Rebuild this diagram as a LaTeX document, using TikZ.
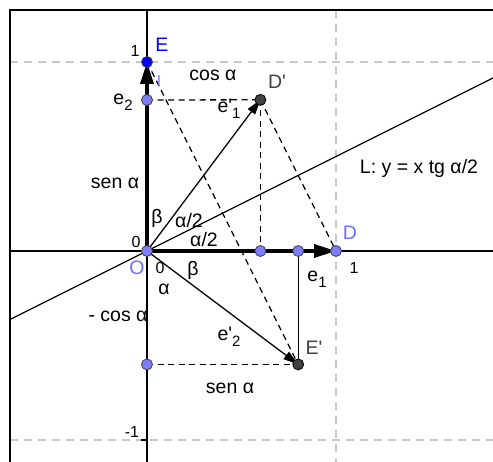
\documentclass[tikz,border=0pt]{standalone}
\usepackage{fontspec}
\setmainfont{Liberation Sans}
\usetikzlibrary{arrows.meta}
\definecolor{ptblue}{RGB}{125,125,255}
\definecolor{ptdark}{RGB}{64,64,64}
\definecolor{gridgray}{RGB}{200,200,200}
\definecolor{lblblue}{RGB}{110,110,255}
\newcommand{\sub}[1]{\raisebox{-0.32em}{\fontsize{15}{15}\selectfont #1}}
\begin{document}
\begin{tikzpicture}[x=1pt,y=-1pt,
  lbl/.style={inner sep=0pt, font=\fontsize{19.5}{21}\selectfont},
  num/.style={inner sep=0pt, font=\fontsize{16}{17}\selectfont},
  gridline/.style={gridgray, line width=1.3pt, dash pattern=on 8pt off 6pt},
  axis/.style={black, line width=1.5pt},
  frameline/.style={black, line width=2.6pt},
  helper/.style={black, line width=1.3pt, dash pattern=on 6pt off 4.5pt},
  thinline/.style={black, line width=1.3pt},
  bigvec/.style={line width=3.5pt, -{Triangle[length=22pt,width=13pt]}},
  vec/.style={line width=1.3pt, -{Triangle[length=15pt,width=9pt]}},
  pt/.style={circle, draw=black!75, line width=0.8pt, fill=ptblue, minimum size=11pt, inner sep=0pt},
  ptE/.style={pt, fill=blue},
  ptD/.style={pt, fill=ptdark, draw=black},
]
\useasboundingbox (0,0) rectangle (493,462);
% main points
\coordinate (O) at (147,251);
\coordinate (E) at (147,62);
\coordinate (Py) at (147,100);
\coordinate (D) at (336,251);
\coordinate (Dp) at (260.4,99.8);
\coordinate (Ep) at (298.2,364.4);
\coordinate (Qa) at (260.4,251);
\coordinate (Qb) at (298.2,251);
\coordinate (Qc) at (147,364.4);
% free ends
\coordinate (gHa1) at (10,62);
\coordinate (gHb1) at (493,62);
\coordinate (gHa2) at (10,440);
\coordinate (gHb2) at (493,440);
\coordinate (gVa) at (336,10);
\coordinate (gVb) at (336,462);
\coordinate (frTL) at (10,10);
\coordinate (frTR) at (493,10);
\coordinate (frBL) at (10,462);
\coordinate (axXa) at (10,251);
\coordinate (axXb) at (493,251);
\coordinate (axYa) at (147,10);
\coordinate (axYb) at (147,462);
\coordinate (La) at (10,319.5);
\coordinate (Lb) at (493,78);
\coordinate (tk1a) at (141,440);
\coordinate (tk1b) at (147,440);
% grid
\draw[gridline] (gHa1) -- (gHb1);
\draw[gridline] (gHa2) -- (gHb2);
\draw[gridline] (gVa) -- (gVb);
% frame
\draw[frameline] (frTR) -- (frTL) -- (frBL);
% axes
\draw[axis] (axXa) -- (axXb);
\draw[axis] (axYa) -- (axYb);
\draw[axis] (tk1a) -- (tk1b);
% line L
\draw[thinline] (La) -- (Lb);
% helper lines
\draw[helper] (Py) -- (Dp);
\draw[helper] (Dp) -- (Qa);
\draw[helper] (Dp) -- (D);
\draw[helper] (E) -- (Ep);
\draw[helper] (Qc) -- (Ep);
\draw[thinline] (Qb) -- (Ep);
% vectors
\draw[bigvec] (O) -- (D);
\draw[bigvec] (O) -- (E);
\draw[vec] (O) -- (Dp);
\draw[vec] (O) -- (Ep);
% points
\node[pt] (nO) at (O) {};
\node[ptE] (nE) at (E) {};
\node[pt] (nPy) at (Py) {};
\node[pt] (nD) at (D) {};
\node[pt] (nQa) at (Qa) {};
\node[pt] (nQb) at (Qb) {};
\node[pt] (nQc) at (Qc) {};
\node[ptD] (nDp) at (Dp) {};
\node[ptD] (nEp) at (Ep) {};
% labels
\node[num] (l1) at (135,51) {1};
\node[lbl, text=blue] (lE) at (162,45) {E};
\node[lbl, text=lblblue, font=\fontsize{15}{15}\selectfont] (ll) at (159,81) {l};
\node[lbl] (lcos) at (213,75) {cos α};
\node[lbl, text=ptdark] (lDp) at (277,82) {D\textquotesingle};
\node[lbl] (le2) at (123,102) {e\sub{2}};
\node[lbl] (le1p) at (229,109) {e\textquotesingle\sub{1}};
\node[lbl] (lsen1) at (115,183) {sen α};
\node[lbl] (lL) at (419,168) {L: y = x tg α/2};
\node[lbl] (lb1) at (157,218) {β};
\node[lbl] (la1) at (189,221) {α/2};
\node[lbl] (la2) at (204,240) {α/2};
\node[num] (l0a) at (136,242) {0};
\node[lbl, text=lblblue] (lO) at (137,268) {O};
\node[num] (l0b) at (160,268) {0};
\node[lbl] (lb2) at (193,270) {β};
\node[lbl] (la3) at (164,289) {α};
\node[lbl, text=lblblue] (lD) at (350,233) {D};
\node[num] (l1x) at (354,268) {1};
\node[lbl] (le1) at (317,279) {e\sub{1}};
\node[lbl] (lmcos) at (118,316) {- cos α};
\node[lbl] (le2p) at (229,337) {e\textquotesingle\sub{2}};
\node[lbl, text=ptdark] (lEp) at (314,348) {E\textquotesingle};
\node[lbl] (lsen2) at (230,388) {sen α};
\node[num] (lm1) at (132,432) {-1};
\end{tikzpicture}
\end{document}
